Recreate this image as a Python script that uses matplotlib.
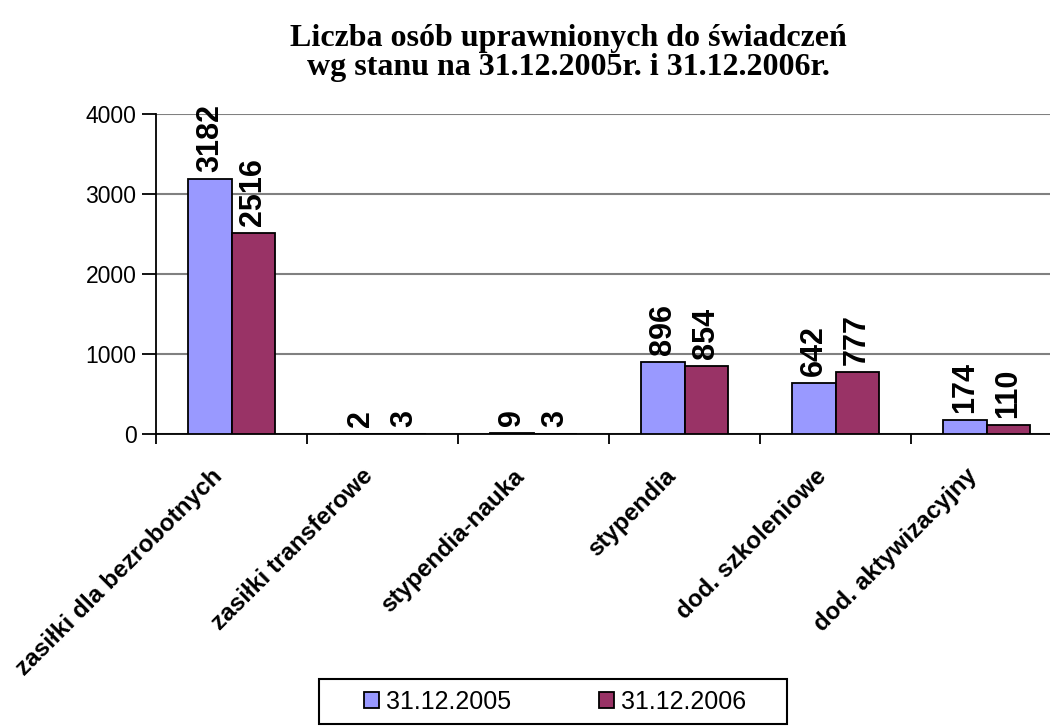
import numpy as np
import matplotlib.pyplot as plt
from matplotlib.patches import Patch, Rectangle

kategorie = ["zasiłki dla bezrobotnych", "zasiłki transferowe", "stypendia-nauka",
             "stypendia", "dod. szkoleniowe", "dod. aktywizacyjny"]
serie = ["31.12.2005", "31.12.2006"]
v2005 = [3182, 2, 9, 896, 642, 174]
v2006 = [2516, 3, 3, 854, 777, 110]
kolory = ["#9999FF", "#993366"]
yticks = [0, 1000, 2000, 3000, 4000]

plt.rcParams['font.family'] = ['Liberation Sans', 'DejaVu Sans']

fig = plt.figure(figsize=(10.5, 7.26), dpi=100)
ax = fig.add_axes([156 / 1050, (726 - 434) / 726, 906 / 1050, 320 / 726])

x = np.arange(len(kategorie))
w = 0.285
for k, (vals, c) in enumerate(zip([v2005, v2006], kolory)):
    pos = x + (k - 0.5) * w
    ax.bar(pos, vals, width=w, color=c, edgecolor='black', linewidth=1.3, zorder=3)
    for px, v in zip(pos, vals):
        ax.annotate(str(v), (px, v), xytext=(0, 5), textcoords='offset points',
                    rotation=90, ha='center', va='bottom', fontsize=22,
                    fontweight='bold', zorder=4)

ax.set_xlim(-0.5, len(kategorie) - 0.5)
ax.set_ylim(0, 4000)
ax.set_yticks(yticks)
ax.tick_params(axis='y', labelsize=16.5, direction='out', length=10, width=1.3, pad=4)
ax.yaxis.grid(True, color='#808080', linewidth=1.5, zorder=0)

ax.set_xticks(np.arange(len(kategorie) + 1) - 0.5)
ax.set_xticklabels([])
ax.tick_params(axis='x', direction='out', length=7, width=1.3)
for i, name in enumerate(kategorie):
    ax.annotate(name, (i, 0), xytext=(-15, -22), textcoords='offset points',
                xycoords=('data', 'axes fraction'), rotation=45,
                rotation_mode='anchor', ha='right', va='top',
                fontsize=17.5, fontweight='bold', annotation_clip=False)

for s in ['top', 'right']:
    ax.spines[s].set_visible(False)
ax.spines['left'].set_linewidth(1.3)
ax.spines['bottom'].set_linewidth(1.3)

fig.text(568 / 1050, 1 - 53 / 726,
         "Liczba osób uprawnionych do świadczeń\nwg stanu na 31.12.2005r. i 31.12.2006r.",
         ha='center', va='center', fontsize=23, fontweight='bold',
         family=['Liberation Serif', 'DejaVu Serif'], linespacing=1.0)

uchwyty = [Patch(facecolor=c, edgecolor='black', linewidth=1.3) for c in kolory]
leg = fig.legend(uchwyty, serie, loc='center', bbox_to_anchor=(555 / 1050, 1 - 702 / 726),
                 ncol=2, fontsize=18, frameon=False,
                 handlelength=0.6, handleheight=0.6, handletextpad=0.3,
                 columnspacing=3.5, borderpad=0.0)
fig.patches.append(Rectangle((319 / 1050, 1 - 724 / 726), 468 / 1050, 45 / 726,
                             transform=fig.transFigure, fill=False,
                             edgecolor='black', linewidth=1.5))

fig.savefig("out.png", dpi=100)
